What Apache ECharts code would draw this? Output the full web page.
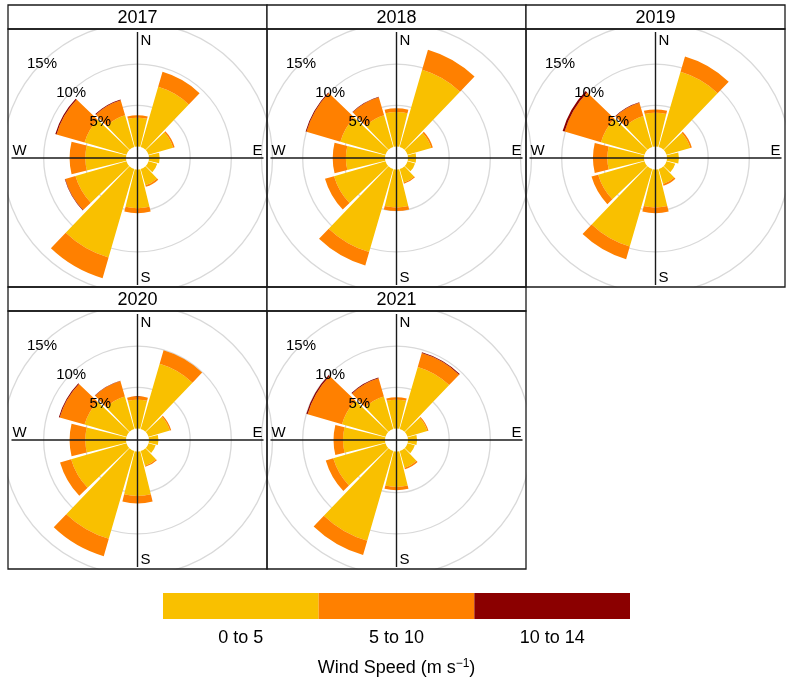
<!DOCTYPE html>
<html>
<head>
<meta charset="utf-8">
<script src="https://cdn.jsdelivr.net/npm/echarts@6/dist/echarts.min.js"></script>
<style>
  html, body { margin: 0; padding: 0; background: #fff; }
  #main { width: 790px; height: 681px; }
</style>
</head>
<body>
<div id="main"></div>
<script>
// wind directions, clockwise from north, 30 degree sectors
var directions = ['N', '30', '60', 'E', '120', '150', 'S', '210', '240', 'W', '300', '330'];
var years = ['2017', '2018', '2019', '2020', '2021'];
var speedBins = ['0 to 5', '5 to 10', '10 to 14'];
var binColors = ['#F9C000', '#FF8000', '#8B0000'];
var ringTicks = [5, 10, 15];

// frequency (%) per direction and speed bin
var low2017  = [3.5, 7.6, 3.1, 1.3, 1.1, 2.05, 4.7, 11.2, 6.45, 4.95, 5.3, 4.0];
var mid2017  = [0.3, 1.9, 0.2, 0, 0, 0.2, 0.6, 2.6, 1.3, 1.9, 3.55, 1.9];
var high2017 = [0, 0, 0, 0, 0, 0, 0, 0, 0.05, 0, 0.15, 0.1];

var low2018  = [4.2, 9.75, 3.0, 1.0, 0.95, 1.7, 4.6, 10.5, 6.5, 4.75, 5.7, 4.0];
var mid2018  = [0.45, 2.55, 0.2, 0, 0, 0.15, 0.45, 1.7, 1.15, 1.6, 4.3, 2.3];
var high2018 = [0, 0, 0, 0, 0, 0, 0, 0, 0, 0, 0.1, 0.05];

var low2019  = [4.1, 9.5, 3.0, 1.45, 1.1, 1.9, 4.6, 9.8, 5.85, 4.45, 5.5, 3.9];
var mid2019  = [0.4, 1.95, 0.2, 0, 0, 0.2, 0.7, 1.6, 0.85, 1.75, 4.6, 1.7];
var high2019 = [0, 0, 0, 0, 0, 0, 0, 0, 0, 0, 0.25, 0.05];

var low2020  = [3.5, 8.25, 2.7, 1.15, 0.9, 1.85, 5.4, 11.1, 7.0, 4.95, 5.3, 4.1];
var mid2020  = [0.4, 1.7, 0.17, 0, 0, 0.15, 0.9, 2.2, 1.4, 1.9, 3.15, 1.95];
var high2020 = [0, 0, 0, 0, 0, 0, 0, 0, 0, 0, 0.1, 0.05];

var low2021  = [3.5, 7.85, 2.5, 1.1, 0.92, 2.1, 4.3, 11.35, 6.6, 5.1, 5.5, 4.1];
var mid2021  = [0.3, 1.75, 0.15, 0, 0, 0.2, 0.4, 1.8, 0.95, 1.15, 4.35, 2.3];
var high2021 = [0, 0.1, 0, 0, 0, 0, 0, 0, 0, 0, 0.15, 0.1];

var yearData = [
  [low2017, mid2017, high2017],
  [low2018, mid2018, high2018],
  [low2019, mid2019, high2019],
  [low2020, mid2020, high2020],
  [low2021, mid2021, high2021]
];

// layout
var panelW = 259, rowH = 282, stripH = 24, plotH = 258;
var left0 = 8, top0 = 5;
var innerR = 11.5, outerR = 135, maxPct = 15;
var ink = '#1a1a1a';
var font = 'Liberation Sans, Arial, sans-serif';

var polar = [], angleAxis = [], radiusAxis = [], series = [], graphics = [];

years.forEach(function (yr, i) {
  var col = i % 3, row = Math.floor(i / 3);
  var x0 = left0 + col * panelW, y0 = top0 + row * rowH;
  var cx = x0 + panelW / 2, cy = y0 + stripH + plotH / 2;

  polar.push({ center: [cx, cy], radius: [innerR, outerR] });
  angleAxis.push({
    polarIndex: i, type: 'category', data: directions,
    startAngle: 105, clockwise: true,
    axisLine: { show: false }, axisTick: { show: false },
    axisLabel: { show: false }, splitLine: { show: false }
  });
  radiusAxis.push({
    polarIndex: i, type: 'value', min: 0, max: maxPct, interval: 5,
    axisLine: { show: false }, axisTick: { show: false }, axisLabel: { show: false },
    splitLine: { show: true, lineStyle: { color: ['rgba(0,0,0,0)', '#d9d9d9', '#d9d9d9', '#d9d9d9'], width: 1.3 } }
  });

  yearData[i].forEach(function (vals, b) {
    series.push({
      type: 'bar', coordinateSystem: 'polar', polarIndex: i,
      stack: 'rose' + i, name: speedBins[b], data: vals,
      barCategoryGap: '8%', itemStyle: { color: binColors[b] },
      silent: true, animation: false
    });
  });

  // strip + panel frame
  graphics.push({ type: 'rect', z: 15, shape: { x: x0, y: y0, width: panelW, height: stripH },
    style: { fill: '#fff', stroke: ink, lineWidth: 1.3 } });
  graphics.push({ type: 'text', z: 16, x: cx, y: y0 + stripH / 2 + 1,
    style: { text: yr, font: '18px ' + font, fill: '#000', textAlign: 'center', textVerticalAlign: 'middle' } });
  graphics.push({ type: 'rect', z: 20, shape: { x: x0, y: y0 + stripH, width: panelW, height: plotH },
    style: { fill: 'none', stroke: ink, lineWidth: 1.3 } });

  // compass cross
  var arm = 126;
  graphics.push({ type: 'line', z: 12, shape: { x1: cx, y1: cy - arm, x2: cx, y2: cy + arm + 1 },
    style: { stroke: ink, lineWidth: 1.4 } });
  graphics.push({ type: 'line', z: 12, shape: { x1: cx - arm, y1: cy, x2: cx + arm, y2: cy },
    style: { stroke: ink, lineWidth: 1.4 } });
  var lab = function (t, x, y, ha, va) {
    graphics.push({ type: 'text', z: 13, x: x, y: y,
      style: { text: t, font: '15px ' + font, fill: '#000', textAlign: ha, textVerticalAlign: va } });
  };
  lab('N', cx + 3, cy - arm + 1, 'left', 'top');
  lab('S', cx + 3, cy + arm + 1, 'left', 'bottom');
  lab('W', cx - arm + 1, cy, 'left', 'bottom');
  lab('E', cx + arm - 1, cy, 'right', 'bottom');

  // ring labels along the NW direction
  ringTicks.forEach(function (v) {
    var r = innerR + v * (outerR - innerR) / maxPct;
    var a = Math.PI * 3 / 4;
    lab(v + '%', cx + r * Math.cos(a), cy - r * Math.sin(a) + 1, 'center', 'middle');
  });
});

// clip rings outside the panel block
var blockR = left0 + 3 * panelW, blockB = top0 + 2 * rowH;
graphics.push({ type: 'rect', z: 14, shape: { x: 0, y: 0, width: left0 - 0.5, height: blockB + 10 }, style: { fill: '#fff' } });
graphics.push({ type: 'rect', z: 14, shape: { x: blockR + 0.5, y: 0, width: 20, height: blockB + 10 }, style: { fill: '#fff' } });
graphics.push({ type: 'rect', z: 14, shape: { x: 0, y: blockB + 0.5, width: 790, height: 20 }, style: { fill: '#fff' } });
graphics.push({ type: 'rect', z: 14, shape: { x: left0 + 2 * panelW + 0.5, y: top0 + rowH + 0.5, width: panelW + 10, height: rowH + 10 }, style: { fill: '#fff' } });

// colour key as a small cartesian bar strip
series.push({
  type: 'bar', xAxisIndex: 0, yAxisIndex: 0, barCategoryGap: '0%',
  silent: true, animation: false,
  data: speedBins.map(function (s, k) { return { value: 1, itemStyle: { color: binColors[k] } }; })
});

var option = {
  backgroundColor: '#fff',
  animation: false,
  polar: polar,
  angleAxis: angleAxis,
  radiusAxis: radiusAxis,
  grid: { left: 163, top: 593, width: 467, height: 26 },
  xAxis: {
    type: 'category', data: speedBins,
    axisLine: { show: false }, axisTick: { show: false },
    axisLabel: { margin: 10, fontSize: 18, color: '#000', fontFamily: font },
    name: 'Wind Speed (m s{sup|\u22121})', nameLocation: 'middle', nameGap: 39,
    nameTextStyle: { fontSize: 18, color: '#000', fontFamily: font,
      rich: { sup: { fontSize: 12, verticalAlign: 'top', padding: [0, 0, 8, 0], color: '#000', fontFamily: font } } }
  },
  yAxis: { type: 'value', min: 0, max: 1, show: false },
  series: series,
  graphic: { elements: graphics }
};

var myChart = echarts.init(document.getElementById('main'), null, { renderer: 'canvas' });
myChart.setOption(option);
</script>
</body>
</html>
